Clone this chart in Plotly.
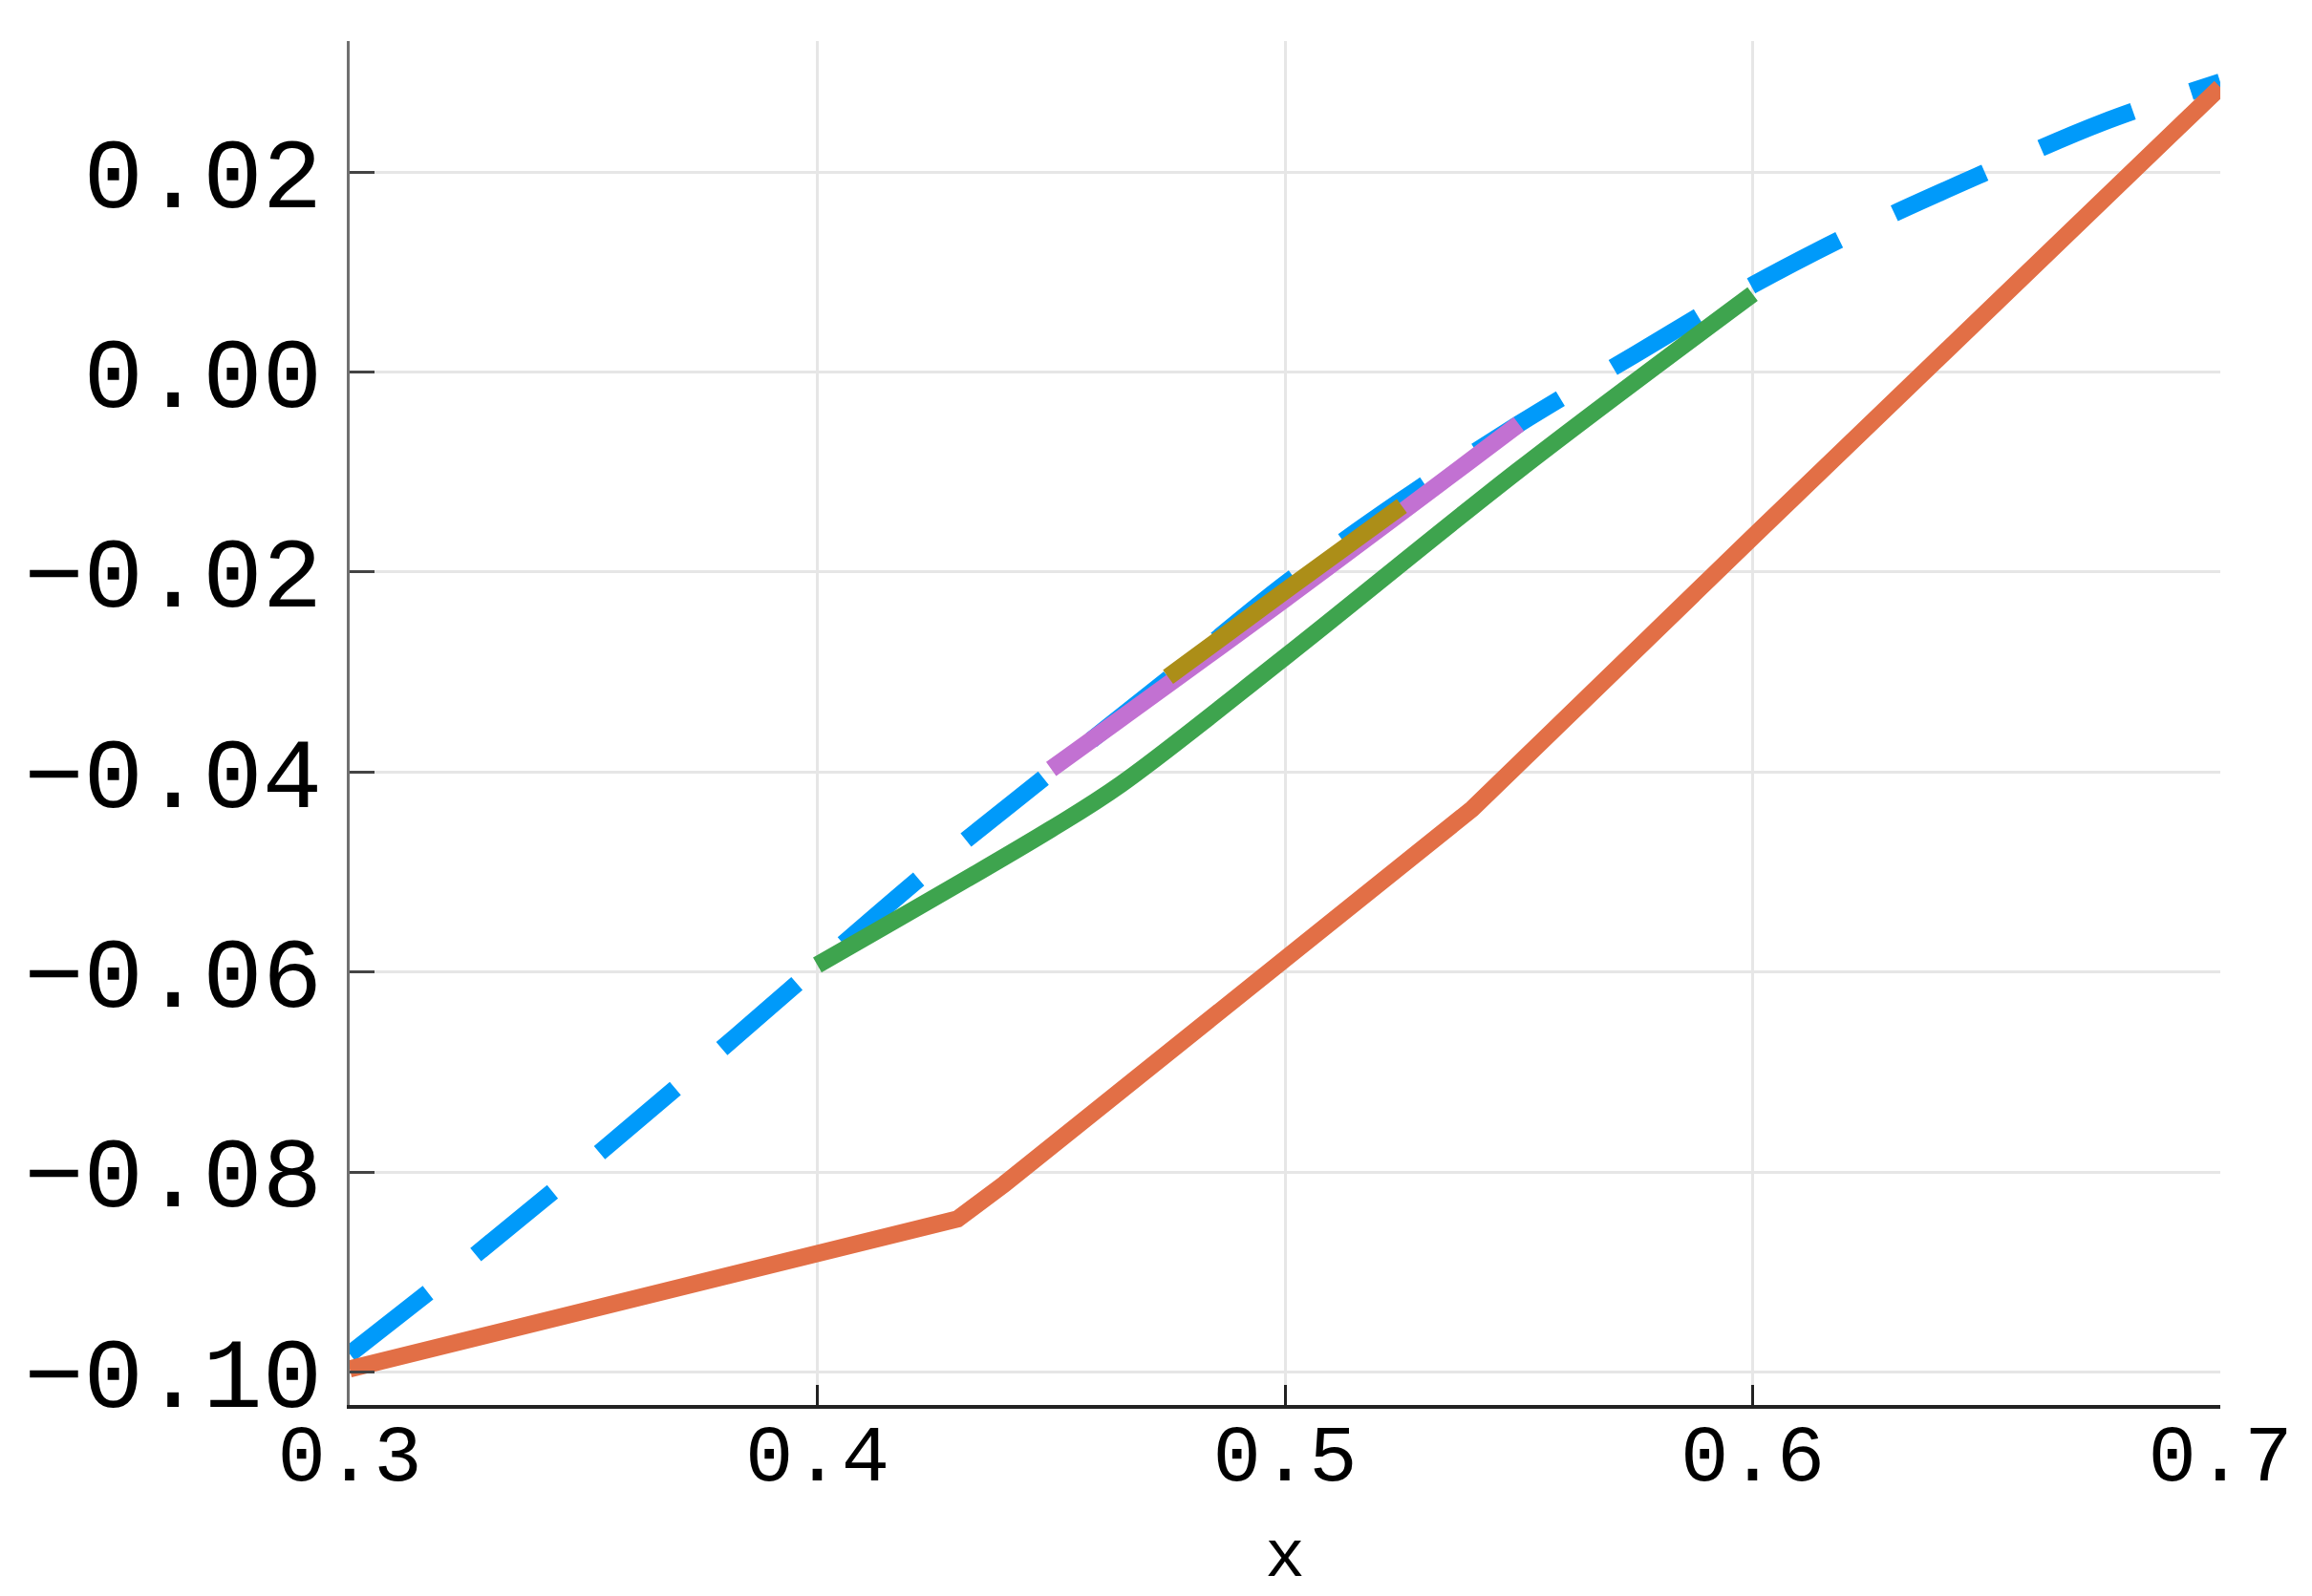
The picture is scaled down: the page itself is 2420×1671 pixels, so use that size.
import plotly.graph_objects as go

x_ticks = [0.3, 0.4, 0.5, 0.6, 0.7]
y_ticks = [-0.10, -0.08, -0.06, -0.04, -0.02, 0.00, 0.02]

blue_x = [0.300, 0.325, 0.350, 0.375, 0.400, 0.425, 0.450, 0.475, 0.500,
          0.525, 0.550, 0.575, 0.600, 0.625, 0.650, 0.675, 0.700]
blue_y = [-0.0982, -0.0890, -0.0794, -0.0695, -0.0594, -0.0494, -0.0400, -0.0307, -0.0212,
          -0.0128, -0.0052, 0.0018, 0.0087, 0.0147, 0.0200, 0.0250, 0.0290]

orange_x = [0.30, 0.40, 0.43, 0.44, 0.54, 0.60, 0.70]
orange_y = [-0.0997, -0.0882, -0.0847, -0.0812, -0.0437, -0.0165, 0.0285]

green_x = [0.40, 0.45, 0.465, 0.50, 0.55, 0.60]
green_y = [-0.0593, -0.0457, -0.0412, -0.0285, -0.0098, 0.0078]

purple_x = [0.45, 0.50, 0.55]
purple_y = [-0.0397, -0.0227, -0.0052]

olive_x = [0.475, 0.50, 0.525]
olive_y = [-0.0305, -0.0219, -0.0134]

FONT = "Liberation Mono"
LW = 18


def curves_chart():
    fig = go.Figure()

    fig.add_trace(go.Scatter(x=blue_x, y=blue_y, mode="lines", line_shape="spline",
                             line=dict(color="#009AFA", width=LW, dash="104px,64px")))
    fig.add_trace(go.Scatter(x=orange_x, y=orange_y, mode="lines",
                             line=dict(color="#E26F46", width=LW)))
    fig.add_trace(go.Scatter(x=green_x, y=green_y, mode="lines", line_shape="spline",
                             line=dict(color="#3EA44E", width=LW)))
    fig.add_trace(go.Scatter(x=purple_x, y=purple_y, mode="lines", line_shape="spline",
                             line=dict(color="#C271D2", width=LW)))
    fig.add_trace(go.Scatter(x=olive_x, y=olive_y, mode="lines", line_shape="spline",
                             line=dict(color="#AC8E18", width=LW)))

    # the page body adds an 8px margin, so the figure is 8px smaller
    fig.update_layout(
        width=2412,
        height=1663,
        template="plotly_white",
        plot_bgcolor="white",
        paper_bgcolor="white",
        showlegend=False,
        margin=dict(l=358, r=96, t=35, b=200),
        font=dict(family=FONT, color="black"),
    )

    fig.update_xaxes(
        range=[0.3, 0.7],
        automargin=False,
        tickvals=x_ticks,
        tickformat=".1f",
        tickfont=dict(family=FONT, size=84, color="black"),
        title=dict(text="x", font=dict(family=FONT, size=70, color="black"), standoff=32),
        showgrid=True, gridcolor="#e6e6e6", gridwidth=3,
        showline=True, linecolor="#222222", linewidth=4,
        ticks="inside", ticklen=21, tickwidth=3, tickcolor="#222222",
        ticklabelstandoff=-26,
        zeroline=False,
    )
    fig.update_yaxes(
        range=[-0.1033, 0.0331],
        automargin=False,
        tickvals=y_ticks,
        tickformat=".2f",
        tickfont=dict(family=FONT, size=104, color="black"),
        showgrid=True, gridcolor="#e6e6e6", gridwidth=3,
        showline=True, linecolor="#707070", linewidth=3,
        ticks="inside", ticklen=26, tickwidth=3, tickcolor="#444444",
        ticklabelstandoff=5,
        zeroline=False,
    )

    return fig


fig = curves_chart()
fig.write_html("out.html")
